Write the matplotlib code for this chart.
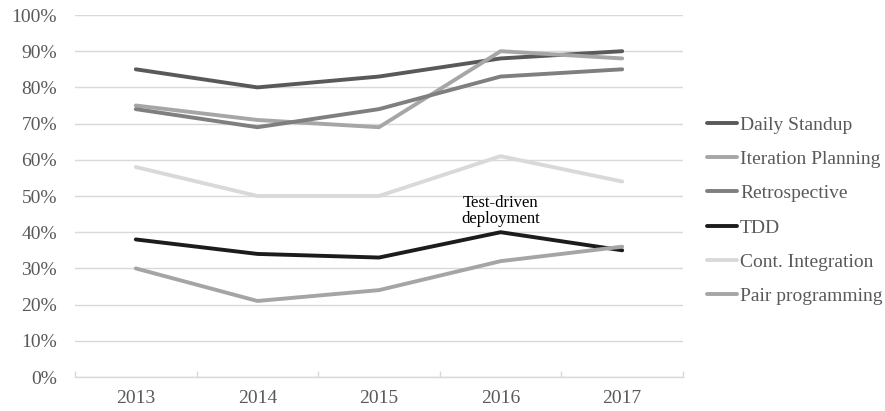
import numpy as np
import matplotlib.pyplot as plt

plt.rcParams['font.family'] = ['Liberation Serif', 'DejaVu Serif']

years = ['2013', '2014', '2015', '2016', '2017']
daily_standup = [85, 80, 83, 88, 90]
iteration_planning = [75, 71, 69, 90, 88]
retrospective = [74, 69, 74, 83, 85]
tdd = [38, 34, 33, 40, 35]
cont_integration = [58, 50, 50, 61, 54]
pair_programming = [30, 21, 24, 32, 36]

series = [
    ('Daily Standup', daily_standup, '#595959'),
    ('Iteration Planning', iteration_planning, '#a6a6a6'),
    ('Retrospective', retrospective, '#7f7f7f'),
    ('TDD', tdd, '#1c1c1c'),
    ('Cont. Integration', cont_integration, '#d9d9d9'),
    ('Pair programming', pair_programming, '#a5a5a5'),
]

text_col = '#595959'
grid_col = '#d9d9d9'
fs = 14

fig = plt.figure(figsize=(8.85, 4.11), dpi=100)
ax = fig.add_axes([75 / 885, 1 - 377 / 411, 608 / 885, 362 / 411])

x = np.arange(len(years))
for name, vals, col in series:
    ax.plot(x, vals, color=col, lw=2.8, label=name, solid_capstyle='round', solid_joinstyle='round')

# label above the 2016 TDD point
ax.text(x[3], tdd[3] + 1.3, 'Test-driven\ndeployment', ha='center', va='bottom',
        fontsize=12, color='black', linespacing=1.0)

ax.set_xlim(-0.5, len(years) - 0.5)
ax.set_ylim(0, 100)
ax.set_yticks(np.arange(0, 101, 10))
ax.set_yticklabels([f'{v}%' for v in range(0, 101, 10)])
ax.set_xticks(x)
ax.set_xticklabels(years)
ax.set_xticks(np.arange(-0.5, len(years), 1), minor=True)

ax.grid(axis='y', color=grid_col, lw=1)
ax.set_axisbelow(True)
for s in ['top', 'right', 'left']:
    ax.spines[s].set_visible(False)
ax.spines['bottom'].set_color(grid_col)
ax.spines['bottom'].set_linewidth(1)

ax.tick_params(axis='y', length=0, pad=13, labelsize=fs, labelcolor=text_col)
ax.tick_params(axis='x', which='major', length=0, pad=9, labelsize=fs, labelcolor=text_col)
ax.tick_params(axis='x', which='minor', direction='in', length=4, color=grid_col, width=1)

leg = fig.legend(loc='upper left', bbox_to_anchor=(707 / 885, 1 - 116 / 411), frameon=False,
                 handlelength=1.55, handletextpad=0.15, labelspacing=0.86, fontsize=fs,
                 borderaxespad=0, borderpad=0)
for t in leg.get_texts():
    t.set_color(text_col)

fig.savefig('out.png', dpi=100)
